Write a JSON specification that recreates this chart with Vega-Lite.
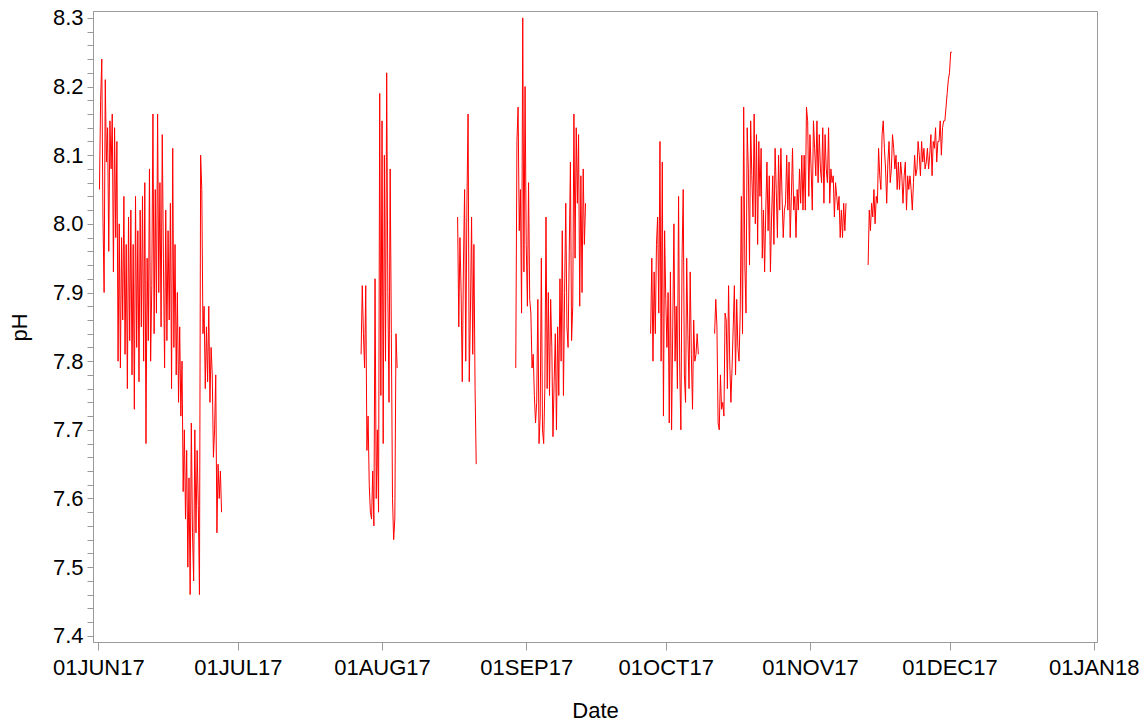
{
  "$schema": "https://vega.github.io/schema/vega-lite/v6.json",
  "width": 1004,
  "height": 631,
  "autosize": "none",
  "padding": {"left": 93, "top": 11, "right": 51, "bottom": 82},
  "background": "white",
  "config": {
    "view": {"stroke": "#9a9a9a", "strokeWidth": 1},
    "font": "Liberation Sans",
    "axis": {"grid": false, "domainColor": "#9a9a9a", "tickColor": "#9a9a9a", "labelColor": "#000000", "titleColor": "#000000", "labelFont": "Liberation Sans", "titleFont": "Liberation Sans", "labelFontSize": 22, "titleFontSize": 22, "titleFontWeight": "normal"}
  },
  "data": {"values": [
    {"t":"2017-06-01T06:00","pH":8.05,"seg":1},{"t":"2017-06-01T12:00","pH":8.18,"seg":1},{"t":"2017-06-01T18:00","pH":8.24,"seg":1},
    {"t":"2017-06-02T00:00","pH":8.01,"seg":1},{"t":"2017-06-02T06:00","pH":7.90,"seg":1},{"t":"2017-06-02T12:00","pH":8.21,"seg":1},{"t":"2017-06-02T18:00","pH":8.09,"seg":1},
    {"t":"2017-06-03T00:00","pH":8.14,"seg":1},{"t":"2017-06-03T06:00","pH":7.96,"seg":1},{"t":"2017-06-03T12:00","pH":8.15,"seg":1},{"t":"2017-06-03T18:00","pH":8.08,"seg":1},
    {"t":"2017-06-04T00:00","pH":8.16,"seg":1},{"t":"2017-06-04T06:00","pH":7.93,"seg":1},{"t":"2017-06-04T12:00","pH":8.14,"seg":1},{"t":"2017-06-04T18:00","pH":7.98,"seg":1},
    {"t":"2017-06-05T00:00","pH":8.12,"seg":1},{"t":"2017-06-05T06:00","pH":7.80,"seg":1},{"t":"2017-06-05T12:00","pH":8.00,"seg":1},{"t":"2017-06-05T18:00","pH":7.79,"seg":1},
    {"t":"2017-06-06T00:00","pH":7.98,"seg":1},{"t":"2017-06-06T06:00","pH":7.86,"seg":1},{"t":"2017-06-06T12:00","pH":8.04,"seg":1},{"t":"2017-06-06T18:00","pH":7.81,"seg":1},
    {"t":"2017-06-07T00:00","pH":7.97,"seg":1},{"t":"2017-06-07T06:00","pH":7.76,"seg":1},{"t":"2017-06-07T12:00","pH":8.01,"seg":1},{"t":"2017-06-07T18:00","pH":7.83,"seg":1},
    {"t":"2017-06-08T00:00","pH":8.02,"seg":1},{"t":"2017-06-08T06:00","pH":7.78,"seg":1},{"t":"2017-06-08T12:00","pH":7.97,"seg":1},{"t":"2017-06-08T18:00","pH":7.73,"seg":1},
    {"t":"2017-06-09T00:00","pH":8.04,"seg":1},{"t":"2017-06-09T06:00","pH":7.82,"seg":1},{"t":"2017-06-09T12:00","pH":7.99,"seg":1},{"t":"2017-06-09T18:00","pH":7.77,"seg":1},
    {"t":"2017-06-10T00:00","pH":8.02,"seg":1},{"t":"2017-06-10T06:00","pH":7.85,"seg":1},{"t":"2017-06-10T12:00","pH":8.04,"seg":1},{"t":"2017-06-10T18:00","pH":7.80,"seg":1},
    {"t":"2017-06-11T00:00","pH":8.06,"seg":1},{"t":"2017-06-11T06:00","pH":7.68,"seg":1},{"t":"2017-06-11T12:00","pH":7.95,"seg":1},{"t":"2017-06-11T18:00","pH":7.83,"seg":1},
    {"t":"2017-06-12T00:00","pH":8.08,"seg":1},{"t":"2017-06-12T06:00","pH":7.80,"seg":1},{"t":"2017-06-12T12:00","pH":7.91,"seg":1},{"t":"2017-06-12T18:00","pH":8.16,"seg":1},
    {"t":"2017-06-13T00:00","pH":7.84,"seg":1},{"t":"2017-06-13T06:00","pH":8.05,"seg":1},{"t":"2017-06-13T12:00","pH":7.87,"seg":1},{"t":"2017-06-13T18:00","pH":8.16,"seg":1},
    {"t":"2017-06-14T00:00","pH":7.90,"seg":1},{"t":"2017-06-14T06:00","pH":8.06,"seg":1},{"t":"2017-06-14T12:00","pH":7.85,"seg":1},{"t":"2017-06-14T18:00","pH":8.13,"seg":1},
    {"t":"2017-06-15T00:00","pH":7.95,"seg":1},{"t":"2017-06-15T06:00","pH":7.79,"seg":1},{"t":"2017-06-15T12:00","pH":8.02,"seg":1},{"t":"2017-06-15T18:00","pH":7.83,"seg":1},
    {"t":"2017-06-16T00:00","pH":7.99,"seg":1},{"t":"2017-06-16T06:00","pH":7.86,"seg":1},{"t":"2017-06-16T12:00","pH":8.03,"seg":1},{"t":"2017-06-16T18:00","pH":7.76,"seg":1},
    {"t":"2017-06-17T00:00","pH":8.11,"seg":1},{"t":"2017-06-17T06:00","pH":7.82,"seg":1},{"t":"2017-06-17T12:00","pH":7.97,"seg":1},{"t":"2017-06-17T18:00","pH":7.78,"seg":1},
    {"t":"2017-06-18T00:00","pH":7.90,"seg":1},{"t":"2017-06-18T06:00","pH":7.74,"seg":1},{"t":"2017-06-18T12:00","pH":7.85,"seg":1},{"t":"2017-06-18T18:00","pH":7.72,"seg":1},
    {"t":"2017-06-19T00:00","pH":7.80,"seg":1},{"t":"2017-06-19T06:00","pH":7.61,"seg":1},{"t":"2017-06-19T12:00","pH":7.70,"seg":1},{"t":"2017-06-19T18:00","pH":7.57,"seg":1},
    {"t":"2017-06-20T00:00","pH":7.67,"seg":1},{"t":"2017-06-20T06:00","pH":7.50,"seg":1},{"t":"2017-06-20T12:00","pH":7.63,"seg":1},{"t":"2017-06-20T18:00","pH":7.46,"seg":1},
    {"t":"2017-06-21T00:00","pH":7.71,"seg":1},{"t":"2017-06-21T06:00","pH":7.55,"seg":1},{"t":"2017-06-21T12:00","pH":7.48,"seg":1},{"t":"2017-06-21T18:00","pH":7.70,"seg":1},
    {"t":"2017-06-22T00:00","pH":7.55,"seg":1},{"t":"2017-06-22T06:00","pH":7.67,"seg":1},{"t":"2017-06-22T12:00","pH":7.59,"seg":1},{"t":"2017-06-22T18:00","pH":7.46,"seg":1},
    {"t":"2017-06-23T00:00","pH":8.10,"seg":1},{"t":"2017-06-23T06:00","pH":8.05,"seg":1},{"t":"2017-06-23T12:00","pH":7.84,"seg":1},{"t":"2017-06-23T18:00","pH":7.88,"seg":1},
    {"t":"2017-06-24T00:00","pH":7.76,"seg":1},{"t":"2017-06-24T06:00","pH":7.85,"seg":1},{"t":"2017-06-24T12:00","pH":7.77,"seg":1},{"t":"2017-06-24T18:00","pH":7.88,"seg":1},
    {"t":"2017-06-25T00:00","pH":7.74,"seg":1},{"t":"2017-06-25T06:00","pH":7.82,"seg":1},{"t":"2017-06-25T12:00","pH":7.78,"seg":1},{"t":"2017-06-25T18:00","pH":7.66,"seg":1},
    {"t":"2017-06-26T00:00","pH":7.70,"seg":1},{"t":"2017-06-26T06:00","pH":7.78,"seg":1},{"t":"2017-06-26T12:00","pH":7.55,"seg":1},{"t":"2017-06-26T18:00","pH":7.65,"seg":1},
    {"t":"2017-06-27T00:00","pH":7.60,"seg":1},{"t":"2017-06-27T06:00","pH":7.64,"seg":1},{"t":"2017-06-27T12:00","pH":7.58,"seg":1},

    {"t":"2017-07-27T12:00","pH":7.81,"seg":2},{"t":"2017-07-27T18:00","pH":7.91,"seg":2},
    {"t":"2017-07-28T00:00","pH":7.84,"seg":2},{"t":"2017-07-28T06:00","pH":7.79,"seg":2},{"t":"2017-07-28T12:00","pH":7.91,"seg":2},{"t":"2017-07-28T18:00","pH":7.67,"seg":2},
    {"t":"2017-07-29T00:00","pH":7.72,"seg":2},{"t":"2017-07-29T06:00","pH":7.62,"seg":2},{"t":"2017-07-29T12:00","pH":7.58,"seg":2},{"t":"2017-07-29T18:00","pH":7.57,"seg":2},
    {"t":"2017-07-30T00:00","pH":7.64,"seg":2},{"t":"2017-07-30T06:00","pH":7.56,"seg":2},{"t":"2017-07-30T12:00","pH":7.92,"seg":2},{"t":"2017-07-30T18:00","pH":7.60,"seg":2},
    {"t":"2017-07-31T00:00","pH":7.70,"seg":2},{"t":"2017-07-31T06:00","pH":7.58,"seg":2},{"t":"2017-07-31T12:00","pH":8.19,"seg":2},{"t":"2017-07-31T18:00","pH":7.75,"seg":2},
    {"t":"2017-08-01T00:00","pH":8.15,"seg":2},{"t":"2017-08-01T06:00","pH":7.68,"seg":2},{"t":"2017-08-01T12:00","pH":8.10,"seg":2},{"t":"2017-08-01T18:00","pH":7.80,"seg":2},
    {"t":"2017-08-02T00:00","pH":8.22,"seg":2},{"t":"2017-08-02T06:00","pH":7.90,"seg":2},{"t":"2017-08-02T12:00","pH":7.74,"seg":2},{"t":"2017-08-02T18:00","pH":8.08,"seg":2},
    {"t":"2017-08-03T00:00","pH":7.84,"seg":2},{"t":"2017-08-03T06:00","pH":7.60,"seg":2},{"t":"2017-08-03T12:00","pH":7.54,"seg":2},{"t":"2017-08-03T18:00","pH":7.57,"seg":2},
    {"t":"2017-08-04T00:00","pH":7.84,"seg":2},{"t":"2017-08-04T06:00","pH":7.79,"seg":2},

    {"t":"2017-08-17T06:00","pH":8.01,"seg":3},{"t":"2017-08-17T12:00","pH":7.85,"seg":3},{"t":"2017-08-17T18:00","pH":7.98,"seg":3},
    {"t":"2017-08-18T00:00","pH":7.90,"seg":3},{"t":"2017-08-18T06:00","pH":7.77,"seg":3},{"t":"2017-08-18T12:00","pH":7.94,"seg":3},{"t":"2017-08-18T18:00","pH":8.05,"seg":3},
    {"t":"2017-08-19T00:00","pH":7.80,"seg":3},{"t":"2017-08-19T06:00","pH":8.03,"seg":3},{"t":"2017-08-19T12:00","pH":8.16,"seg":3},{"t":"2017-08-19T18:00","pH":7.77,"seg":3},
    {"t":"2017-08-20T00:00","pH":7.87,"seg":3},{"t":"2017-08-20T06:00","pH":8.01,"seg":3},{"t":"2017-08-20T12:00","pH":7.81,"seg":3},{"t":"2017-08-20T18:00","pH":7.97,"seg":3},
    {"t":"2017-08-21T00:00","pH":7.76,"seg":3},{"t":"2017-08-21T06:00","pH":7.65,"seg":3},

    {"t":"2017-08-29T18:00","pH":7.79,"seg":4},
    {"t":"2017-08-30T00:00","pH":8.12,"seg":4},{"t":"2017-08-30T06:00","pH":8.17,"seg":4},{"t":"2017-08-30T12:00","pH":7.99,"seg":4},{"t":"2017-08-30T18:00","pH":8.05,"seg":4},
    {"t":"2017-08-31T00:00","pH":7.87,"seg":4},{"t":"2017-08-31T06:00","pH":8.30,"seg":4},{"t":"2017-08-31T12:00","pH":7.93,"seg":4},{"t":"2017-08-31T18:00","pH":8.20,"seg":4},
    {"t":"2017-09-01T00:00","pH":7.97,"seg":4},{"t":"2017-09-01T06:00","pH":7.88,"seg":4},{"t":"2017-09-01T12:00","pH":8.06,"seg":4},{"t":"2017-09-01T18:00","pH":7.89,"seg":4},
    {"t":"2017-09-02T00:00","pH":7.87,"seg":4},{"t":"2017-09-02T06:00","pH":7.79,"seg":4},{"t":"2017-09-02T12:00","pH":7.81,"seg":4},{"t":"2017-09-02T18:00","pH":7.75,"seg":4},
    {"t":"2017-09-03T00:00","pH":7.71,"seg":4},{"t":"2017-09-03T06:00","pH":7.74,"seg":4},{"t":"2017-09-03T12:00","pH":7.89,"seg":4},{"t":"2017-09-03T18:00","pH":7.68,"seg":4},
    {"t":"2017-09-04T00:00","pH":7.72,"seg":4},{"t":"2017-09-04T06:00","pH":7.95,"seg":4},{"t":"2017-09-04T12:00","pH":7.70,"seg":4},{"t":"2017-09-04T18:00","pH":7.68,"seg":4},
    {"t":"2017-09-05T00:00","pH":7.76,"seg":4},{"t":"2017-09-05T06:00","pH":8.01,"seg":4},{"t":"2017-09-05T12:00","pH":7.76,"seg":4},{"t":"2017-09-05T18:00","pH":7.90,"seg":4},
    {"t":"2017-09-06T00:00","pH":7.75,"seg":4},{"t":"2017-09-06T06:00","pH":7.89,"seg":4},{"t":"2017-09-06T12:00","pH":7.82,"seg":4},{"t":"2017-09-06T18:00","pH":7.69,"seg":4},
    {"t":"2017-09-07T00:00","pH":7.77,"seg":4},{"t":"2017-09-07T06:00","pH":7.84,"seg":4},{"t":"2017-09-07T12:00","pH":7.70,"seg":4},{"t":"2017-09-07T18:00","pH":7.85,"seg":4},
    {"t":"2017-09-08T00:00","pH":7.75,"seg":4},{"t":"2017-09-08T06:00","pH":7.92,"seg":4},{"t":"2017-09-08T12:00","pH":7.80,"seg":4},{"t":"2017-09-08T18:00","pH":7.99,"seg":4},
    {"t":"2017-09-09T00:00","pH":7.75,"seg":4},{"t":"2017-09-09T06:00","pH":7.90,"seg":4},{"t":"2017-09-09T12:00","pH":8.03,"seg":4},{"t":"2017-09-09T18:00","pH":7.85,"seg":4},
    {"t":"2017-09-10T00:00","pH":7.82,"seg":4},{"t":"2017-09-10T06:00","pH":7.96,"seg":4},{"t":"2017-09-10T12:00","pH":8.09,"seg":4},{"t":"2017-09-10T18:00","pH":7.83,"seg":4},
    {"t":"2017-09-11T00:00","pH":7.88,"seg":4},{"t":"2017-09-11T06:00","pH":8.16,"seg":4},{"t":"2017-09-11T12:00","pH":7.95,"seg":4},{"t":"2017-09-11T18:00","pH":8.14,"seg":4},
    {"t":"2017-09-12T00:00","pH":8.03,"seg":4},{"t":"2017-09-12T06:00","pH":8.13,"seg":4},{"t":"2017-09-12T12:00","pH":7.88,"seg":4},{"t":"2017-09-12T18:00","pH":8.07,"seg":4},
    {"t":"2017-09-13T00:00","pH":7.90,"seg":4},{"t":"2017-09-13T06:00","pH":8.08,"seg":4},{"t":"2017-09-13T12:00","pH":7.97,"seg":4},{"t":"2017-09-13T18:00","pH":8.03,"seg":4},

    {"t":"2017-09-27T18:00","pH":7.84,"seg":5},
    {"t":"2017-09-28T00:00","pH":7.95,"seg":5},{"t":"2017-09-28T06:00","pH":7.80,"seg":5},{"t":"2017-09-28T12:00","pH":7.93,"seg":5},{"t":"2017-09-28T18:00","pH":7.84,"seg":5},
    {"t":"2017-09-29T00:00","pH":7.97,"seg":5},{"t":"2017-09-29T06:00","pH":8.01,"seg":5},{"t":"2017-09-29T12:00","pH":7.87,"seg":5},{"t":"2017-09-29T18:00","pH":8.12,"seg":5},
    {"t":"2017-09-30T00:00","pH":7.80,"seg":5},{"t":"2017-09-30T06:00","pH":8.09,"seg":5},{"t":"2017-09-30T12:00","pH":7.72,"seg":5},{"t":"2017-09-30T18:00","pH":7.99,"seg":5},
    {"t":"2017-10-01T00:00","pH":7.89,"seg":5},{"t":"2017-10-01T06:00","pH":7.82,"seg":5},{"t":"2017-10-01T12:00","pH":7.90,"seg":5},{"t":"2017-10-01T18:00","pH":7.71,"seg":5},
    {"t":"2017-10-02T00:00","pH":7.93,"seg":5},{"t":"2017-10-02T06:00","pH":7.70,"seg":5},{"t":"2017-10-02T12:00","pH":7.85,"seg":5},{"t":"2017-10-02T18:00","pH":8.00,"seg":5},
    {"t":"2017-10-03T00:00","pH":7.80,"seg":5},{"t":"2017-10-03T06:00","pH":7.88,"seg":5},{"t":"2017-10-03T12:00","pH":7.76,"seg":5},{"t":"2017-10-03T18:00","pH":8.04,"seg":5},
    {"t":"2017-10-04T00:00","pH":7.79,"seg":5},{"t":"2017-10-04T06:00","pH":7.70,"seg":5},{"t":"2017-10-04T12:00","pH":7.95,"seg":5},{"t":"2017-10-04T18:00","pH":8.05,"seg":5},
    {"t":"2017-10-05T00:00","pH":7.78,"seg":5},{"t":"2017-10-05T06:00","pH":7.74,"seg":5},{"t":"2017-10-05T12:00","pH":7.95,"seg":5},{"t":"2017-10-05T18:00","pH":7.84,"seg":5},
    {"t":"2017-10-06T00:00","pH":7.76,"seg":5},{"t":"2017-10-06T06:00","pH":7.93,"seg":5},{"t":"2017-10-06T12:00","pH":7.81,"seg":5},{"t":"2017-10-06T18:00","pH":7.73,"seg":5},
    {"t":"2017-10-07T00:00","pH":7.86,"seg":5},{"t":"2017-10-07T06:00","pH":7.80,"seg":5},{"t":"2017-10-07T12:00","pH":7.81,"seg":5},{"t":"2017-10-07T18:00","pH":7.84,"seg":5},
    {"t":"2017-10-08T00:00","pH":7.81,"seg":5},

    {"t":"2017-10-11T12:00","pH":7.84,"seg":6},{"t":"2017-10-11T18:00","pH":7.89,"seg":6},
    {"t":"2017-10-12T00:00","pH":7.85,"seg":6},{"t":"2017-10-12T06:00","pH":7.71,"seg":6},{"t":"2017-10-12T12:00","pH":7.70,"seg":6},{"t":"2017-10-12T18:00","pH":7.78,"seg":6},
    {"t":"2017-10-13T00:00","pH":7.73,"seg":6},{"t":"2017-10-13T06:00","pH":7.74,"seg":6},{"t":"2017-10-13T12:00","pH":7.72,"seg":6},{"t":"2017-10-13T18:00","pH":7.87,"seg":6},
    {"t":"2017-10-14T00:00","pH":7.86,"seg":6},{"t":"2017-10-14T06:00","pH":7.76,"seg":6},{"t":"2017-10-14T12:00","pH":7.91,"seg":6},{"t":"2017-10-14T18:00","pH":7.80,"seg":6},
    {"t":"2017-10-15T00:00","pH":7.74,"seg":6},{"t":"2017-10-15T06:00","pH":7.79,"seg":6},{"t":"2017-10-15T12:00","pH":7.85,"seg":6},{"t":"2017-10-15T18:00","pH":7.91,"seg":6},
    {"t":"2017-10-16T00:00","pH":7.78,"seg":6},{"t":"2017-10-16T06:00","pH":7.89,"seg":6},{"t":"2017-10-16T12:00","pH":7.82,"seg":6},{"t":"2017-10-16T18:00","pH":7.80,"seg":6},
    {"t":"2017-10-17T00:00","pH":7.87,"seg":6},{"t":"2017-10-17T06:00","pH":8.04,"seg":6},{"t":"2017-10-17T12:00","pH":7.84,"seg":6},{"t":"2017-10-17T18:00","pH":8.17,"seg":6},
    {"t":"2017-10-18T00:00","pH":7.94,"seg":6},{"t":"2017-10-18T06:00","pH":7.87,"seg":6},{"t":"2017-10-18T12:00","pH":8.14,"seg":6},{"t":"2017-10-18T18:00","pH":8.08,"seg":6},
    {"t":"2017-10-19T00:00","pH":7.94,"seg":6},{"t":"2017-10-19T06:00","pH":8.15,"seg":6},{"t":"2017-10-19T12:00","pH":8.07,"seg":6},{"t":"2017-10-19T18:00","pH":8.01,"seg":6},
    {"t":"2017-10-20T00:00","pH":8.16,"seg":6},{"t":"2017-10-20T06:00","pH":8.00,"seg":6},{"t":"2017-10-20T12:00","pH":8.13,"seg":6},{"t":"2017-10-20T18:00","pH":7.97,"seg":6},
    {"t":"2017-10-21T00:00","pH":8.12,"seg":6},{"t":"2017-10-21T06:00","pH":8.04,"seg":6},{"t":"2017-10-21T12:00","pH":8.11,"seg":6},{"t":"2017-10-21T18:00","pH":7.95,"seg":6},
    {"t":"2017-10-22T00:00","pH":8.02,"seg":6},{"t":"2017-10-22T06:00","pH":7.93,"seg":6},{"t":"2017-10-22T12:00","pH":8.02,"seg":6},{"t":"2017-10-22T18:00","pH":8.09,"seg":6},
    {"t":"2017-10-23T00:00","pH":7.99,"seg":6},{"t":"2017-10-23T06:00","pH":8.07,"seg":6},{"t":"2017-10-23T12:00","pH":7.93,"seg":6},{"t":"2017-10-23T18:00","pH":8.01,"seg":6},
    {"t":"2017-10-24T00:00","pH":8.07,"seg":6},{"t":"2017-10-24T06:00","pH":7.97,"seg":6},{"t":"2017-10-24T12:00","pH":8.11,"seg":6},{"t":"2017-10-24T18:00","pH":8.05,"seg":6},
    {"t":"2017-10-25T00:00","pH":7.98,"seg":6},{"t":"2017-10-25T06:00","pH":8.10,"seg":6},{"t":"2017-10-25T12:00","pH":8.02,"seg":6},{"t":"2017-10-25T18:00","pH":8.11,"seg":6},
    {"t":"2017-10-26T00:00","pH":8.04,"seg":6},{"t":"2017-10-26T06:00","pH":7.98,"seg":6},{"t":"2017-10-26T12:00","pH":8.02,"seg":6},{"t":"2017-10-26T18:00","pH":8.03,"seg":6},
    {"t":"2017-10-27T00:00","pH":8.10,"seg":6},{"t":"2017-10-27T06:00","pH":8.02,"seg":6},{"t":"2017-10-27T12:00","pH":8.09,"seg":6},{"t":"2017-10-27T18:00","pH":7.98,"seg":6},
    {"t":"2017-10-28T00:00","pH":8.04,"seg":6},{"t":"2017-10-28T06:00","pH":8.11,"seg":6},{"t":"2017-10-28T12:00","pH":8.02,"seg":6},{"t":"2017-10-28T18:00","pH":8.04,"seg":6},
    {"t":"2017-10-29T00:00","pH":7.98,"seg":6},{"t":"2017-10-29T06:00","pH":8.05,"seg":6},{"t":"2017-10-29T12:00","pH":8.02,"seg":6},{"t":"2017-10-29T18:00","pH":8.08,"seg":6},
    {"t":"2017-10-30T00:00","pH":8.03,"seg":6},{"t":"2017-10-30T06:00","pH":8.10,"seg":6},{"t":"2017-10-30T12:00","pH":8.02,"seg":6},{"t":"2017-10-30T18:00","pH":8.10,"seg":6},
    {"t":"2017-10-31T00:00","pH":8.02,"seg":6},{"t":"2017-10-31T06:00","pH":8.17,"seg":6},{"t":"2017-10-31T12:00","pH":8.15,"seg":6},{"t":"2017-10-31T18:00","pH":8.04,"seg":6},
    {"t":"2017-11-01T00:00","pH":8.13,"seg":6},{"t":"2017-11-01T06:00","pH":8.08,"seg":6},{"t":"2017-11-01T12:00","pH":8.02,"seg":6},{"t":"2017-11-01T18:00","pH":8.15,"seg":6},
    {"t":"2017-11-02T00:00","pH":8.11,"seg":6},{"t":"2017-11-02T06:00","pH":8.07,"seg":6},{"t":"2017-11-02T12:00","pH":8.15,"seg":6},{"t":"2017-11-02T18:00","pH":8.06,"seg":6},
    {"t":"2017-11-03T00:00","pH":8.13,"seg":6},{"t":"2017-11-03T06:00","pH":8.08,"seg":6},{"t":"2017-11-03T12:00","pH":8.06,"seg":6},{"t":"2017-11-03T18:00","pH":8.14,"seg":6},
    {"t":"2017-11-04T00:00","pH":8.03,"seg":6},{"t":"2017-11-04T06:00","pH":8.13,"seg":6},{"t":"2017-11-04T12:00","pH":8.08,"seg":6},{"t":"2017-11-04T18:00","pH":8.06,"seg":6},
    {"t":"2017-11-05T00:00","pH":8.14,"seg":6},{"t":"2017-11-05T06:00","pH":8.03,"seg":6},{"t":"2017-11-05T12:00","pH":8.08,"seg":6},{"t":"2017-11-05T18:00","pH":8.06,"seg":6},
    {"t":"2017-11-06T00:00","pH":8.07,"seg":6},{"t":"2017-11-06T06:00","pH":8.01,"seg":6},{"t":"2017-11-06T12:00","pH":8.06,"seg":6},{"t":"2017-11-06T18:00","pH":8.04,"seg":6},
    {"t":"2017-11-07T00:00","pH":8.02,"seg":6},{"t":"2017-11-07T06:00","pH":8.04,"seg":6},{"t":"2017-11-07T12:00","pH":7.98,"seg":6},{"t":"2017-11-07T18:00","pH":8.02,"seg":6},
    {"t":"2017-11-08T00:00","pH":7.98,"seg":6},{"t":"2017-11-08T06:00","pH":8.03,"seg":6},{"t":"2017-11-08T12:00","pH":7.99,"seg":6},{"t":"2017-11-08T18:00","pH":8.03,"seg":6},

    {"t":"2017-11-13T12:00","pH":7.94,"seg":7},{"t":"2017-11-13T18:00","pH":8.02,"seg":7},
    {"t":"2017-11-14T00:00","pH":7.99,"seg":7},{"t":"2017-11-14T06:00","pH":8.03,"seg":7},{"t":"2017-11-14T12:00","pH":8.01,"seg":7},{"t":"2017-11-14T18:00","pH":8.05,"seg":7},
    {"t":"2017-11-15T00:00","pH":8.00,"seg":7},{"t":"2017-11-15T06:00","pH":8.04,"seg":7},{"t":"2017-11-15T12:00","pH":8.03,"seg":7},{"t":"2017-11-15T18:00","pH":8.11,"seg":7},
    {"t":"2017-11-16T00:00","pH":8.07,"seg":7},{"t":"2017-11-16T06:00","pH":8.05,"seg":7},{"t":"2017-11-16T12:00","pH":8.13,"seg":7},{"t":"2017-11-16T18:00","pH":8.15,"seg":7},
    {"t":"2017-11-17T00:00","pH":8.11,"seg":7},{"t":"2017-11-17T06:00","pH":8.08,"seg":7},{"t":"2017-11-17T12:00","pH":8.03,"seg":7},{"t":"2017-11-17T18:00","pH":8.09,"seg":7},
    {"t":"2017-11-18T00:00","pH":8.12,"seg":7},{"t":"2017-11-18T06:00","pH":8.06,"seg":7},{"t":"2017-11-18T12:00","pH":8.08,"seg":7},{"t":"2017-11-18T18:00","pH":8.13,"seg":7},
    {"t":"2017-11-19T00:00","pH":8.11,"seg":7},{"t":"2017-11-19T06:00","pH":8.08,"seg":7},{"t":"2017-11-19T12:00","pH":8.10,"seg":7},{"t":"2017-11-19T18:00","pH":8.05,"seg":7},
    {"t":"2017-11-20T00:00","pH":8.09,"seg":7},{"t":"2017-11-20T06:00","pH":8.05,"seg":7},{"t":"2017-11-20T12:00","pH":8.09,"seg":7},{"t":"2017-11-20T18:00","pH":8.07,"seg":7},
    {"t":"2017-11-21T00:00","pH":8.03,"seg":7},{"t":"2017-11-21T06:00","pH":8.07,"seg":7},{"t":"2017-11-21T12:00","pH":8.09,"seg":7},{"t":"2017-11-21T18:00","pH":8.02,"seg":7},
    {"t":"2017-11-22T00:00","pH":8.07,"seg":7},{"t":"2017-11-22T06:00","pH":8.05,"seg":7},{"t":"2017-11-22T12:00","pH":8.07,"seg":7},{"t":"2017-11-22T18:00","pH":8.05,"seg":7},
    {"t":"2017-11-23T00:00","pH":8.02,"seg":7},{"t":"2017-11-23T06:00","pH":8.06,"seg":7},{"t":"2017-11-23T12:00","pH":8.10,"seg":7},{"t":"2017-11-23T18:00","pH":8.07,"seg":7},
    {"t":"2017-11-24T00:00","pH":8.08,"seg":7},{"t":"2017-11-24T06:00","pH":8.12,"seg":7},{"t":"2017-11-24T12:00","pH":8.10,"seg":7},{"t":"2017-11-24T18:00","pH":8.07,"seg":7},
    {"t":"2017-11-25T00:00","pH":8.12,"seg":7},{"t":"2017-11-25T06:00","pH":8.09,"seg":7},{"t":"2017-11-25T12:00","pH":8.11,"seg":7},{"t":"2017-11-25T18:00","pH":8.08,"seg":7},
    {"t":"2017-11-26T00:00","pH":8.09,"seg":7},{"t":"2017-11-26T06:00","pH":8.11,"seg":7},{"t":"2017-11-26T12:00","pH":8.08,"seg":7},{"t":"2017-11-26T18:00","pH":8.10,"seg":7},
    {"t":"2017-11-27T00:00","pH":8.13,"seg":7},{"t":"2017-11-27T06:00","pH":8.07,"seg":7},{"t":"2017-11-27T12:00","pH":8.12,"seg":7},{"t":"2017-11-27T18:00","pH":8.11,"seg":7},
    {"t":"2017-11-28T00:00","pH":8.14,"seg":7},{"t":"2017-11-28T06:00","pH":8.09,"seg":7},{"t":"2017-11-28T12:00","pH":8.12,"seg":7},{"t":"2017-11-28T18:00","pH":8.12,"seg":7},
    {"t":"2017-11-29T00:00","pH":8.15,"seg":7},{"t":"2017-11-29T06:00","pH":8.10,"seg":7},{"t":"2017-11-29T12:00","pH":8.14,"seg":7},{"t":"2017-11-29T18:00","pH":8.15,"seg":7},
    {"t":"2017-11-30T00:00","pH":8.15,"seg":7},{"t":"2017-11-30T06:00","pH":8.17,"seg":7},{"t":"2017-11-30T12:00","pH":8.19,"seg":7},{"t":"2017-11-30T18:00","pH":8.21,"seg":7},
    {"t":"2017-12-01T00:00","pH":8.22,"seg":7},{"t":"2017-12-01T06:00","pH":8.25,"seg":7},{"t":"2017-12-01T12:00","pH":8.25,"seg":7}
  ]},
  "mark": {"type": "line", "color": "#ff0000", "strokeWidth": 1, "clip": true},
  "encoding": {
    "x": {
      "field": "t", "type": "temporal",
      "scale": {"domain": [{"year": 2017, "month": "may", "date": 30, "hours": 20, "minutes": 40}, {"year": 2018, "month": "jan", "date": 1, "hours": 17}], "nice": false},
      "axis": {
        "title": "Date",
        "tickCount": {"interval": "month", "step": 1},
        "labelExpr": "upper(timeFormat(datum.value, '%d%b%y'))",
        "tickSize": 8, "labelPadding": 7, "labelOverlap": false, "labelFlush": false,
        "titleX": 502, "titleY": 75, "titleBaseline": "alphabetic", "titleAnchor": "middle", "titleAlign": "center"
      }
    },
    "y": {
      "field": "pH", "type": "quantitative",
      "scale": {"domain": [7.391, 8.31], "nice": false, "zero": false},
      "axis": {
        "title": "pH",
        "values": [7.40,7.42,7.44,7.46,7.48,7.50,7.52,7.54,7.56,7.58,7.60,7.62,7.64,7.66,7.68,7.70,7.72,7.74,7.76,7.78,7.80,7.82,7.84,7.86,7.88,7.90,7.92,7.94,7.96,7.98,8.00,8.02,8.04,8.06,8.08,8.10,8.12,8.14,8.16,8.18,8.20,8.22,8.24,8.26,8.28,8.30],
        "labelExpr": "round(datum.value*100) % 10 == 0 ? format(datum.value, '.1f') : ''",
        "tickSize": 6, "labelPadding": 4, "labelOverlap": false, "labelFlush": false,
        "titleX": -67, "titleY": 316, "titleAngle": -90, "titleBaseline": "alphabetic", "titleAlign": "center"
      }
    },
    "detail": {"field": "seg", "type": "nominal"}
  }
}
